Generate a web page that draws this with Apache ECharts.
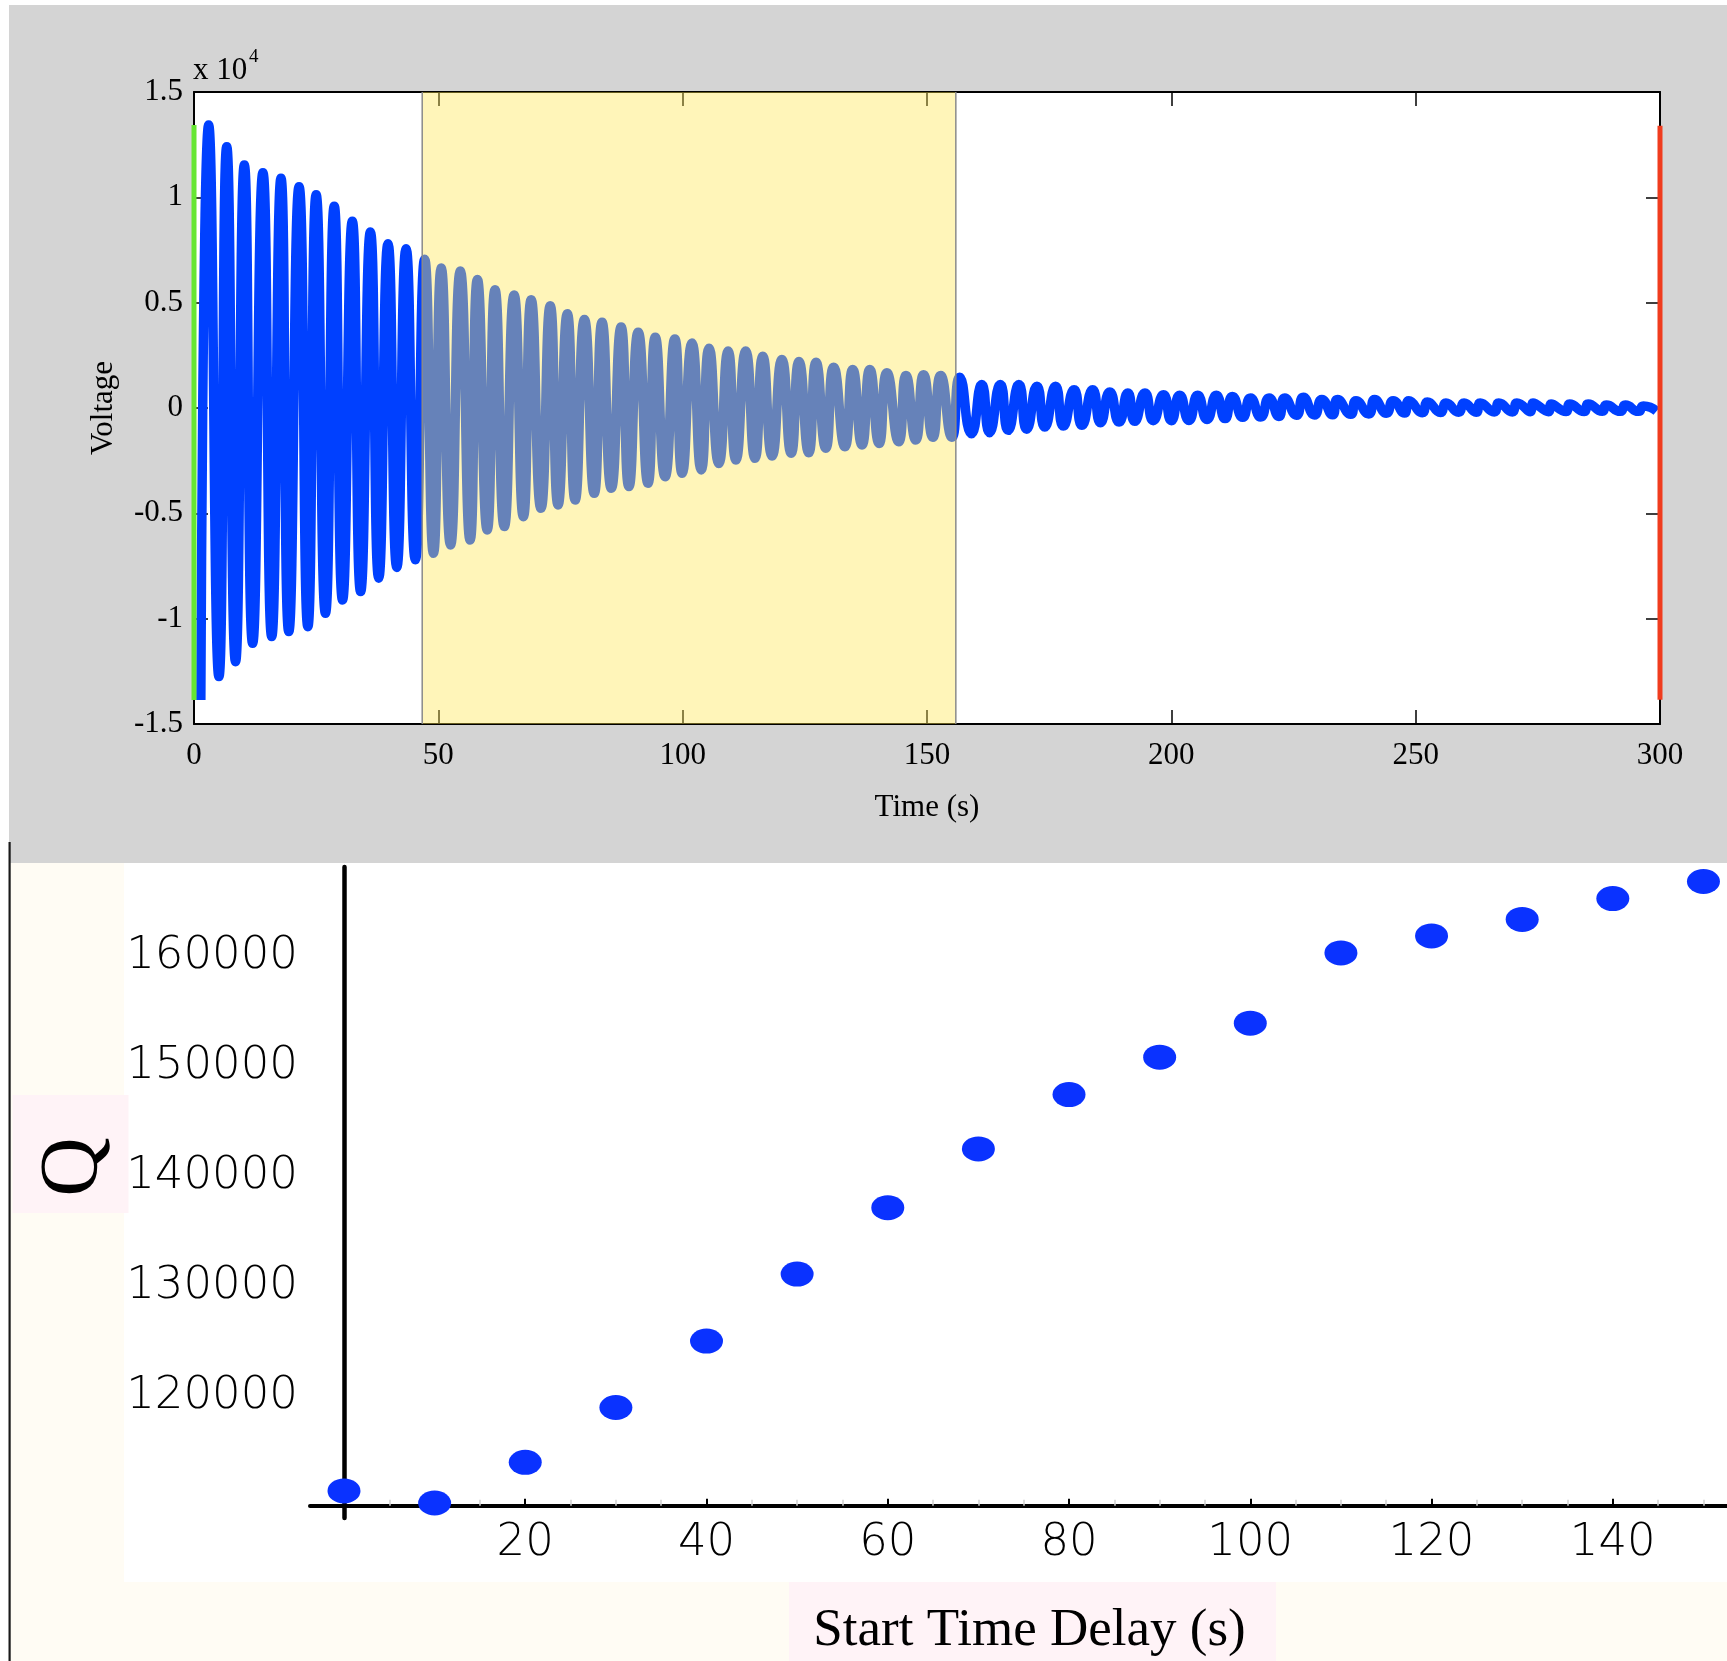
<!DOCTYPE html>
<html>
<head>
<meta charset="utf-8">
<title>Ring-down voltage and Q vs start time delay</title>
<script src="https://cdn.jsdelivr.net/npm/echarts@6.0.0/dist/echarts.min.js"></script>
<style>
html,body{margin:0;padding:0;background:#ffffff;}
#chart{width:1727px;height:1661px;}
</style>
</head>
<body>
<div id="chart"></div>
<script>
// ===== Top panel: ring-down voltage (volts) =====
const peakTime = [3.0, 6.7, 10.3, 14.1, 17.8, 21.5, 25.0, 28.7, 32.4, 36.1, 39.7, 43.4, 47.2,
  50.6, 54.5, 58.0, 61.6, 65.5, 69.0, 72.9, 76.4, 79.9, 83.5, 87.4, 90.9, 94.4, 98.4, 101.9, 105.4, 109.3, 112.9,
  116.4, 120.3, 123.8, 127.3, 130.9, 134.8, 138.3, 141.8, 145.7, 149.3, 152.8, 156.7,
  161.2, 165.0, 168.8, 172.5, 176.3, 180.1, 183.9, 187.4, 191.1, 194.6, 198.4, 201.7, 205.4, 209.2, 212.5, 216.2,
  220.0, 223.2, 227.0, 230.8, 234.0, 237.8, 241.6, 245.4, 248.6, 252.4, 256.2, 259.9, 263.2, 267.0, 270.7, 274.0,
  277.7, 281.5, 285.3, 289.0, 292.9, 296.6];
const peakVolt = [13430, 12400, 11530, 11170, 10900, 10500, 10120, 9580, 8860, 8350, 7800, 7560, 7060,
  6640, 6500, 6100, 5610, 5360, 5140, 4850, 4470, 4200, 4070, 3840, 3600, 3360, 3280, 3080, 2840, 2700, 2700,
  2460, 2300, 2210, 2170, 1940, 1830, 1830, 1670, 1540, 1580, 1540, 1460,
  1110, 1110, 1110, 1030, 1030, 870, 870, 760, 710, 710, 630, 600, 600, 600, 550, 480,
  480, 480, 510, 400, 400, 350, 400, 350, 350, 290, 240, 240, 240, 240, 240, 240,
  190, 190, 190, 140, 140, 90];
const troughTime = [1.4, 5.1, 8.5, 12.0, 15.9, 19.4, 23.3, 26.9, 30.4, 34.1, 37.8, 41.5, 45.3,
  49.0, 52.5, 56.5, 60.0, 63.5, 67.4, 71.0, 74.5, 78.0, 81.9, 85.4, 89.0, 92.9, 96.4, 99.9, 103.8, 107.4, 110.9,
  114.8, 118.3, 122.2, 125.8, 129.3, 133.2, 136.7, 140.2, 144.2, 147.7, 151.2, 155.1,
  159.1, 162.8, 166.6, 170.4, 174.1, 177.9, 181.7, 185.5, 189.3, 192.5, 196.3, 200.0, 203.6, 207.3, 211.0, 214.6,
  218.3, 222.0, 225.6, 229.3, 233.0, 236.7, 240.4, 244.0, 247.7, 251.4, 255.1, 258.8, 262.4, 266.1, 269.8, 273.5,
  277.2, 280.8, 284.5, 288.2, 291.9, 295.6, 299.3];
const troughVolt = [-13860, -12750, -12040, -11170, -10850, -10610, -10380, -9740, -9110, -8710, -8080, -7570, -7200,
  -6900, -6500, -6270, -5790, -5630, -5160, -4760, -4600, -4370, -4050, -3810, -3730, -3570, -3260, -3100, -2940, -2630, -2470,
  -2390, -2280, -2150, -2120, -1910, -1840, -1760, -1680, -1600, -1520, -1390, -1390,
  -1220, -1170, -1060, -1010, -900, -860, -820, -700, -670, -630, -600, -600, -590, -540, -500, -440,
  -430, -400, -340, -330, -320, -300, -280, -250, -240, -220, -210, -200, -200, -190, -190, -180,
  -180, -170, -170, -160, -160, -160, -150];
const gateWindow = [46.7, 155.9];                 // shaded window (s)
const startMarker = [[0, 13430], [0, -13860]];    // green marker at start
const endMarker = [[300, 13400], [300, -13850]];  // red marker at end
const timeTicks = [0, 50, 100, 150, 200, 250, 300];
const voltTicks = [-15000, -10000, -5000, 0, 5000, 10000, 15000];

// ===== Bottom panel: Q vs start time delay =====
const delay = [0, 10, 20, 30, 40, 50, 60, 70, 80, 90, 100, 110, 120, 130, 140, 150];
const qValue = [110900, 109800, 113500, 118500, 124550, 130650, 136700, 142050, 147000, 150400,
  153500, 159900, 161450, 162950, 164850, 166400];
const delayTicks = [20, 40, 60, 80, 100, 120, 140];
const delayMinorTicks = [5, 10, 15, 25, 30, 35, 45, 50, 55, 65, 70, 75, 85, 90, 95, 105, 110, 115, 125, 130, 135, 145, 150];
const qTicks = [120000, 130000, 140000, 150000, 160000];

// ---- build series from the arrays ----
const signal = peakTime.map((t, i) => [t, peakVolt[i]])
  .concat(troughTime.map((t, i) => [t, troughVolt[i]]))
  .sort((a, b) => a[0] - b[0]);
const qData = delay.map((d, i) => [d, qValue[i]]);

const serif = '"Liberation Serif", "Times New Roman", serif';
const sans = '"DejaVu Sans", Verdana, sans-serif';

const chart = echarts.init(document.getElementById('chart'), null, { renderer: 'canvas' });

const topAxisCommon = {
  type: 'value', gridIndex: 0, min: 0, max: 300,
  axisLine: { show: true, onZero: false, lineStyle: { color: '#000', width: 2 } },
  axisTick: { show: true, inside: true, length: 14, customValues: timeTicks, lineStyle: { color: '#000', width: 1.5 } },
  splitLine: { show: false }
};
const topYCommon = {
  type: 'value', gridIndex: 0, min: -15000, max: 15000,
  axisLine: { show: true, onZero: false, lineStyle: { color: '#000', width: 2 } },
  axisTick: { show: true, inside: true, length: 14, customValues: voltTicks, lineStyle: { color: '#000', width: 1.5 } },
  splitLine: { show: false }
};

const option = {
  animation: false,
  backgroundColor: '#ffffff',
  graphic: [
    { type: 'rect', z: -10, silent: true, shape: { x: 9, y: 5, width: 1718, height: 858 }, style: { fill: '#d4d4d4' } },
    { type: 'rect', z: -10, silent: true, shape: { x: 10, y: 863, width: 114, height: 798 }, style: { fill: '#fffcf4' } },
    { type: 'rect', z: -10, silent: true, shape: { x: 10, y: 1582, width: 1717, height: 79 }, style: { fill: '#fffcf4' } },
    { type: 'rect', z: -9, silent: true, shape: { x: 12.5, y: 1095, width: 116, height: 118 }, style: { fill: '#fff3f7' } },
    { type: 'rect', z: -9, silent: true, shape: { x: 789, y: 1582, width: 487, height: 79 }, style: { fill: '#fff3f7' } },
    { type: 'rect', z: -8, silent: true, shape: { x: 8.5, y: 842, width: 2.2, height: 819 }, style: { fill: '#1a1a1a' } },
    { type: 'text', z: 10, silent: true, x: 193, y: 71,
      style: { text: 'x 10', font: '31px ' + serif, fill: '#000', align: 'left', verticalAlign: 'middle' } },
    { type: 'text', z: 10, silent: true, x: 249, y: 57,
      style: { text: '4', font: '19px ' + serif, fill: '#000', align: 'left', verticalAlign: 'middle' } }
  ],
  grid: [
    { left: 194, right: 67, top: 92, bottom: 937, show: true, backgroundColor: '#ffffff', borderWidth: 0,
      containLabel: false, outerBoundsMode: 'none' },
    { left: 310, right: 0, top: 867, bottom: 143, containLabel: false, outerBoundsMode: 'none' }
  ],
  xAxis: [
    Object.assign({}, topAxisCommon, {
      position: 'bottom',
      axisLabel: { show: true, margin: 16, customValues: timeTicks, color: '#000', fontFamily: serif, fontSize: 31 },
      name: 'Time (s)', nameLocation: 'middle', nameGap: 68,
      nameTextStyle: { color: '#000', fontFamily: serif, fontSize: 31 }
    }),
    Object.assign({}, topAxisCommon, { position: 'top', axisLabel: { show: false } }),
    {
      type: 'value', gridIndex: 1, min: -3.75, max: 152.6, position: 'bottom', offset: -12.3,
      axisLine: { show: true, onZero: false, lineStyle: { color: '#000', width: 4 } },
      axisTick: { show: true, inside: true, length: 7, customValues: delayTicks, lineStyle: { color: '#000', width: 2 } },
      axisLabel: { show: true, margin: 15, customValues: delayTicks, color: '#000', fontFamily: sans, fontSize: 45, fontWeight: 200 },
      splitLine: { show: false },
      name: 'Start Time Delay (s)', nameLocation: 'middle', nameGap: 99,
      nameTextStyle: { color: '#000', fontFamily: serif, fontSize: 53, padding: [0, 0, 0, 22] }
    },
    {
      type: 'value', gridIndex: 1, min: -3.75, max: 152.6, position: 'bottom', offset: -12.3,
      axisLine: { show: false, onZero: false },
      axisTick: { show: true, inside: true, length: 6, customValues: delayMinorTicks, lineStyle: { color: '#cfcfcf', width: 1.5 } },
      axisLabel: { show: false },
      splitLine: { show: false }
    }
  ],
  yAxis: [
    Object.assign({}, topYCommon, {
      position: 'left',
      axisLabel: { show: true, margin: 11, customValues: voltTicks, color: '#000', fontFamily: serif, fontSize: 31,
        formatter: v => String(v / 1e4) },
      name: 'Voltage', nameLocation: 'middle', nameGap: 75,
      nameTextStyle: { color: '#000', fontFamily: serif, fontSize: 31 }
    }),
    Object.assign({}, topYCommon, { position: 'right', axisLabel: { show: false } }),
    {
      type: 'value', gridIndex: 1, min: 108434, max: 167723, position: 'left',
      axisLine: { show: true, onZero: true, lineStyle: { color: '#000', width: 4.5 } },
      axisTick: { show: false },
      axisLabel: { show: true, margin: 12, customValues: qTicks, color: '#000', fontFamily: sans, fontSize: 45, fontWeight: 200,
        verticalAlign: 'top', lineHeight: 10, formatter: v => String(v) },
      splitLine: { show: false },
      name: 'Q', nameLocation: 'middle', nameGap: 192,
      nameTextStyle: { color: '#000', fontFamily: serif, fontSize: 82, padding: [0, 0, 0, 51] }
    }
  ],
  series: [
    {
      name: 'Voltage', type: 'line', xAxisIndex: 0, yAxisIndex: 0, z: 2,
      data: signal, showSymbol: false, symbol: 'none', silent: true, smooth: 0.6,
      lineStyle: { color: '#0040ff', width: 9.5, join: 'bevel' }
    },
    {
      name: 'Window', type: 'custom', xAxisIndex: 0, yAxisIndex: 0, z: 5, silent: true,
      data: [gateWindow], encode: { x: [0, 1] },
      renderItem: function (params, api) {
        const p0 = api.coord([api.value(0), 15000]);
        const p1 = api.coord([api.value(1), -15000]);
        return {
          type: 'group',
          children: [
            { type: 'rect', shape: { x: p0[0], y: p0[1], width: p1[0] - p0[0], height: p1[1] - p0[1] },
              style: { fill: 'rgba(255,230,80,0.4)' } },
            { type: 'line', shape: { x1: p0[0], y1: p0[1], x2: p0[0], y2: p1[1] }, style: { stroke: '#8a8a8a', lineWidth: 1.5 } },
            { type: 'line', shape: { x1: p1[0], y1: p0[1], x2: p1[0], y2: p1[1] }, style: { stroke: '#8a8a8a', lineWidth: 1.5 } }
          ]
        };
      }
    },
    {
      name: 'Start', type: 'line', xAxisIndex: 0, yAxisIndex: 0, z: 6, data: startMarker,
      showSymbol: false, symbol: 'none', silent: true, clip: false,
      lineStyle: { color: '#66e633', width: 5 }
    },
    {
      name: 'End', type: 'line', xAxisIndex: 0, yAxisIndex: 0, z: 6, data: endMarker,
      showSymbol: false, symbol: 'none', silent: true, clip: false,
      lineStyle: { color: '#f03c1e', width: 5 }
    },
    {
      name: 'Q', type: 'scatter', xAxisIndex: 2, yAxisIndex: 2, z: 5, clip: false,
      data: qData, symbol: 'circle', symbolSize: [33, 25],
      itemStyle: { color: '#0a32ff', opacity: 1 }
    }
  ]
};
chart.setOption(option);
</script>
</body>
</html>
